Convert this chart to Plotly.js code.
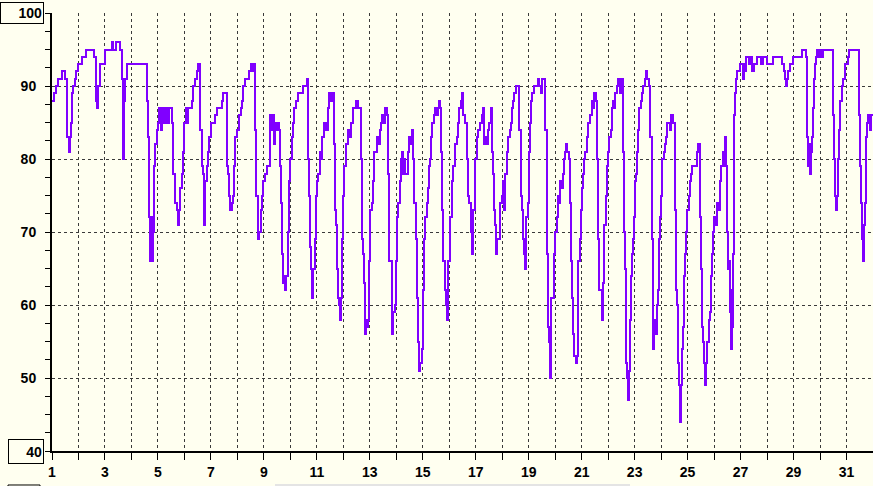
<!DOCTYPE html>
<html>
<head>
<meta charset="utf-8">
<script src="https://cdn.plot.ly/plotly-3.0.1.min.js"></script>
<style>
html,body{margin:0;padding:0;background:#FFFFF0;overflow:hidden;}
#chart{width:873px;height:486px;}
#chart path.js-line{shape-rendering:crispEdges;}
#chart .gridlayer path, #chart .minor-gridlayer path, #chart path.xtick, #chart path.ytick, #chart path.xline, #chart path.yline{shape-rendering:crispEdges;}
</style>
</head>
<body>
<div id="chart"></div>
<script>
// Time in days of the month
const days = [
1.000,1.076,1.138,1.227,1.390,1.491,1.554,1.579,1.629,1.680,1.705,1.755,1.806,1.869,1.906,1.995,2.120,2.271,2.586,2.649,
2.712,2.750,2.813,3.002,3.253,3.316,3.417,3.568,3.656,3.694,3.732,3.769,3.820,4.575,4.613,4.651,4.676,4.701,4.739,4.777,
4.802,4.839,4.902,4.953,5.003,5.053,5.116,5.167,5.230,5.280,5.355,5.431,5.532,5.582,5.645,5.708,5.746,5.796,5.846,5.897,
5.935,5.985,6.048,6.098,6.149,6.274,6.312,6.400,6.463,6.526,6.589,6.652,6.715,6.740,6.778,6.841,6.891,6.942,6.992,7.155,
7.218,7.432,7.470,7.596,7.659,7.697,7.735,7.785,7.823,7.860,7.923,7.999,8.074,8.125,8.175,8.226,8.289,8.452,8.502,8.553,
8.603,8.653,
8.679,8.704,8.767,8.792,8.830,8.893,8.943,8.981,9.044,9.107,9.220,9.245,9.295,9.333,9.371,9.421,9.472,9.522,9.572,9.610,
9.648,9.673,9.711,9.749,9.799,9.837,9.900,9.950,9.988,10.051,10.114,10.151,10.202,10.277,10.491,10.617,10.680,10.705,10.743,10.781,
10.818,10.869,10.932,10.969,11.020,11.058,11.121,11.158,11.209,11.284,11.347,11.410,11.460,11.536,11.586,11.637,11.687,11.725,11.763,11.813,
11.851,11.889,11.914,11.964,12.002,12.040,12.090,12.191,12.228,12.291,12.354,12.480,12.568,12.669,12.719,12.757,12.795,12.820,12.858,12.908,
12.946,12.984,13.022,13.072,13.135,13.173,13.261,13.324,13.387,13.424,13.475,13.525,13.575,13.638,13.676,13.701,13.739,13.827,13.852,13.890,
13.953,13.991,14.041,14.079,14.142,14.179,14.205,14.242,14.293,14.331,14.431,14.482,14.532,14.582,14.645,14.683,14.733,14.784,14.809,14.834,
14.872,14.910,14.960,14.998,15.048,15.086,15.149,15.186,15.224,15.275,15.312,15.363,15.413,15.463,15.526,15.564,15.615,15.652,15.690,15.740,
15.778,15.841,15.879,15.917,15.967,16.030,16.093,16.156,16.219,16.282,16.319,16.370,16.445,16.496,
16.534,16.597,16.660,16.698,16.760,16.811,16.849,16.912,16.974,17.037,17.100,17.163,17.226,17.264,17.314,17.365,17.415,17.478,17.516,17.566,
17.604,17.667,17.705,17.742,17.768,17.818,17.919,17.982,18.044,18.082,18.120,18.170,18.233,18.296,18.321,18.359,18.397,18.460,18.523,18.649,
18.699,18.737,18.775,18.812,18.837,18.863,18.900,18.963,19.001,19.051,19.089,19.140,19.203,19.341,19.404,19.467,19.505,19.630,19.681,19.719,
19.756,19.794,19.857,19.958,20.008,20.059,20.121,20.159,20.184,20.247,20.285,20.335,20.373,20.411,20.461,20.524,20.562,20.600,20.650,20.688,
20.726,20.776,20.839,20.877,20.940,20.977,21.028,21.066,21.103,21.141,21.191,21.229,21.330,21.380,21.443,21.481,21.531,21.569,21.632,21.670,
21.758,21.796,21.846,21.909,21.947,22.010,22.047,22.098,22.148,22.198,22.236,22.274,22.324,22.387,22.450,22.501,22.576,22.614,22.652,22.677,
22.727,22.765,22.803,22.840,22.878,22.916,22.954,22.979,23.017,23.054,23.092,23.142,23.180,23.231,23.281,23.331,23.382,23.432,23.482,23.533,
23.583,23.646,23.684,23.709,23.747,23.785,23.835,23.873,23.923,23.961,23.999,24.049,24.112,24.150,24.188,24.238,
24.326,24.389,24.452,24.515,24.540,24.578,24.615,24.640,24.678,24.716,24.754,24.792,24.829,24.880,24.917,24.955,24.993,25.043,25.094,25.144,
25.182,25.345,25.383,25.459,25.496,25.547,25.585,25.622,25.660,25.710,25.748,25.799,25.836,25.874,25.912,25.950,25.987,26.025,26.126,26.176,
26.214,26.264,26.340,26.378,26.415,26.453,26.503,26.541,26.579,26.604,26.629,26.667,26.692,26.730,26.755,26.793,26.831,26.881,26.969,27.095,
27.133,27.196,27.221,27.322,27.372,27.448,27.511,27.636,27.787,27.850,28.001,28.228,28.581,28.631,28.681,28.706,28.757,28.794,28.857,28.983,
29.336,29.487,29.512,29.550,29.587,29.613,29.650,29.701,29.738,29.776,29.827,29.864,29.902,29.940,29.990,30.066,30.116,30.506,30.544,30.582,
30.620,30.657,30.695,30.733,30.771,30.821,30.872,30.934,31.060,31.098,31.463,31.501,31.539,31.576,31.614,31.652,31.690,31.727,31.778,31.828,
31.878,31.941,32.000
];
// Measured value (%)
const values = [
88,89,90,91,92,91,85,83,81,83,85,89,90,91,92,93,94,95,94,88,
87,90,93,95,96,95,96,95,91,80,88,91,93,88,83,79,72,66,72,66,
70,79,82,84,85,87,84,87,85,87,85,87,85,78,74,73,71,73,76,78,
81,85,87,85,87,88,90,91,92,93,84,79,78,71,77,79,81,83,85,86,
87,88,89,79,78,75,73,74,75,79,83,84,86,87,88,90,91,92,93,92,
93,91,
84,75,70,69,70,73,75,77,78,79,83,86,84,86,82,85,84,85,84,79,
74,67,63,64,62,64,70,77,80,83,85,87,88,89,90,91,80,75,68,65,
61,65,69,75,77,78,81,80,83,85,84,87,89,88,89,82,73,71,65,61,
60,58,61,69,75,79,82,84,83,85,87,88,87,80,69,67,63,56,58,57,
58,66,73,74,77,81,83,82,84,85,86,85,87,86,85,78,66,60,56,59,
60,66,72,74,77,80,81,78,80,78,81,83,82,84,80,74,69,61,60,55,
51,52,54,62,69,72,74,76,79,80,83,85,86,87,86,87,88,87,81,73,
66,62,60,58,66,72,77,79,82,83,85,87,88,89,
86,85,80,75,74,70,67,73,80,83,84,85,86,87,82,83,82,84,85,87,
81,78,73,71,67,69,74,75,77,73,78,81,83,84,85,87,88,89,90,84,
75,73,69,68,67,65,72,74,81,85,88,89,90,91,90,89,91,84,67,57,
55,50,61,67,70,72,75,74,77,76,78,80,81,82,81,80,74,66,61,56,
53,52,53,66,69,73,76,78,80,81,83,85,86,88,87,89,88,80,69,62,
58,63,71,75,79,81,83,84,87,88,87,89,90,91,89,91,81,70,65,52,
50,47,51,58,64,67,69,72,77,78,81,84,87,88,89,90,91,92,91,90,
83,69,63,54,58,56,60,62,69,72,75,80,81,82,83,85,
84,86,85,80,73,62,60,52,49,44,49,54,57,64,67,70,73,75,77,78,
79,81,82,72,65,57,55,52,49,52,55,58,59,64,67,70,72,71,74,73,
77,79,81,79,83,79,70,65,66,59,54,62,57,67,86,89,91,92,93,91,
93,92,94,93,94,92,93,94,93,94,93,94,93,92,91,90,91,92,93,94,
95,94,83,79,82,78,81,83,87,91,93,94,95,94,95,94,95,86,80,75,
73,75,80,84,88,90,91,93,94,95,86,79,74,69,66,71,74,83,85,86,
84,86,86
];
const xTickVals = [1,3,5,7,9,11,13,15,17,19,21,23,25,27,29,31];
const yTickVals = [40,50,60,70,80,90,100];
const yTickText = ['', '50', '60', '70', '80', '90', ''];

const bg = '#FFFFF0';
const gridCol = '#3a3a3a';
const tickFont = {family: 'Liberation Sans, Arial, sans-serif', size: 14, color: '#000', weight: 'bold'};

const trace = {
  x: days, y: values, type: 'scatter', mode: 'lines',
  line: {color: '#8000FF', width: 2, shape: 'hv'},
  hoverinfo: 'skip'
};

const layout = {
  width: 873, height: 486,
  margin: {l: 52, r: 0, t: 13, b: 35, pad: 0},
  paper_bgcolor: bg, plot_bgcolor: bg,
  showlegend: false,
  xaxis: {
    range: [1, 32], tickvals: xTickVals, ticktext: xTickVals.map(String),
    ticks: 'outside', ticklen: 7, tickwidth: 1, tickcolor: '#000',
    showline: true, linecolor: '#000', linewidth: 2,
    showgrid: true, gridcolor: gridCol, gridwidth: 1, griddash: '3px,3px',
    zeroline: false, tickfont: tickFont,
    minor: {dtick: 1, tick0: 1, ticks: 'outside', ticklen: 7, tickcolor: '#000',
            showgrid: true, gridcolor: gridCol, gridwidth: 1, griddash: '3px,3px'},
    fixedrange: true
  },
  yaxis: {
    range: [40, 100], tickvals: yTickVals, ticktext: yTickText,
    ticks: 'outside', ticklen: 5, tickwidth: 1, tickcolor: '#000',
    showline: true, linecolor: '#000', linewidth: 2,
    showgrid: true, gridcolor: gridCol, gridwidth: 1, griddash: '3px,3px',
    zeroline: false, tickfont: tickFont, ticklabelstandoff: 6,
    minor: {dtick: 2.5, tick0: 40, ticks: 'outside', ticklen: 5, tickcolor: '#000', showgrid: false},
    fixedrange: true
  },
  annotations: [
    {xref: 'paper', yref: 'paper', x: -0.0097, y: 1, xanchor: 'right', yanchor: 'middle',
     text: '100', showarrow: false, font: tickFont, align: 'right',
     bordercolor: '#000', borderwidth: 1, borderpad: 1, width: 40, height: 18, bgcolor: bg},
    {xref: 'paper', yref: 'paper', x: -0.0097, y: 0, xanchor: 'right', yanchor: 'middle',
     text: '40', showarrow: false, font: tickFont, align: 'right',
     bordercolor: '#000', borderwidth: 1, borderpad: 1, width: 32, height: 21, bgcolor: bg}
  ],
  shapes: [
    {type: 'rect', xref: 'paper', yref: 'paper', x0: -0.0536, x1: -0.0146, y0: -0.0776, y1: -0.12,
     line: {color: '#000', width: 1}, fillcolor: bg},
    {type: 'rect', xref: 'paper', yref: 'paper', x0: 0.2716, x1: 0.704, y0: -0.0753, y1: -0.085,
     line: {width: 0}, fillcolor: '#e4e4e4'}
  ]
};

Plotly.newPlot('chart', [trace], layout, {displayModeBar: false, staticPlot: true});
</script>
</body>
</html>
